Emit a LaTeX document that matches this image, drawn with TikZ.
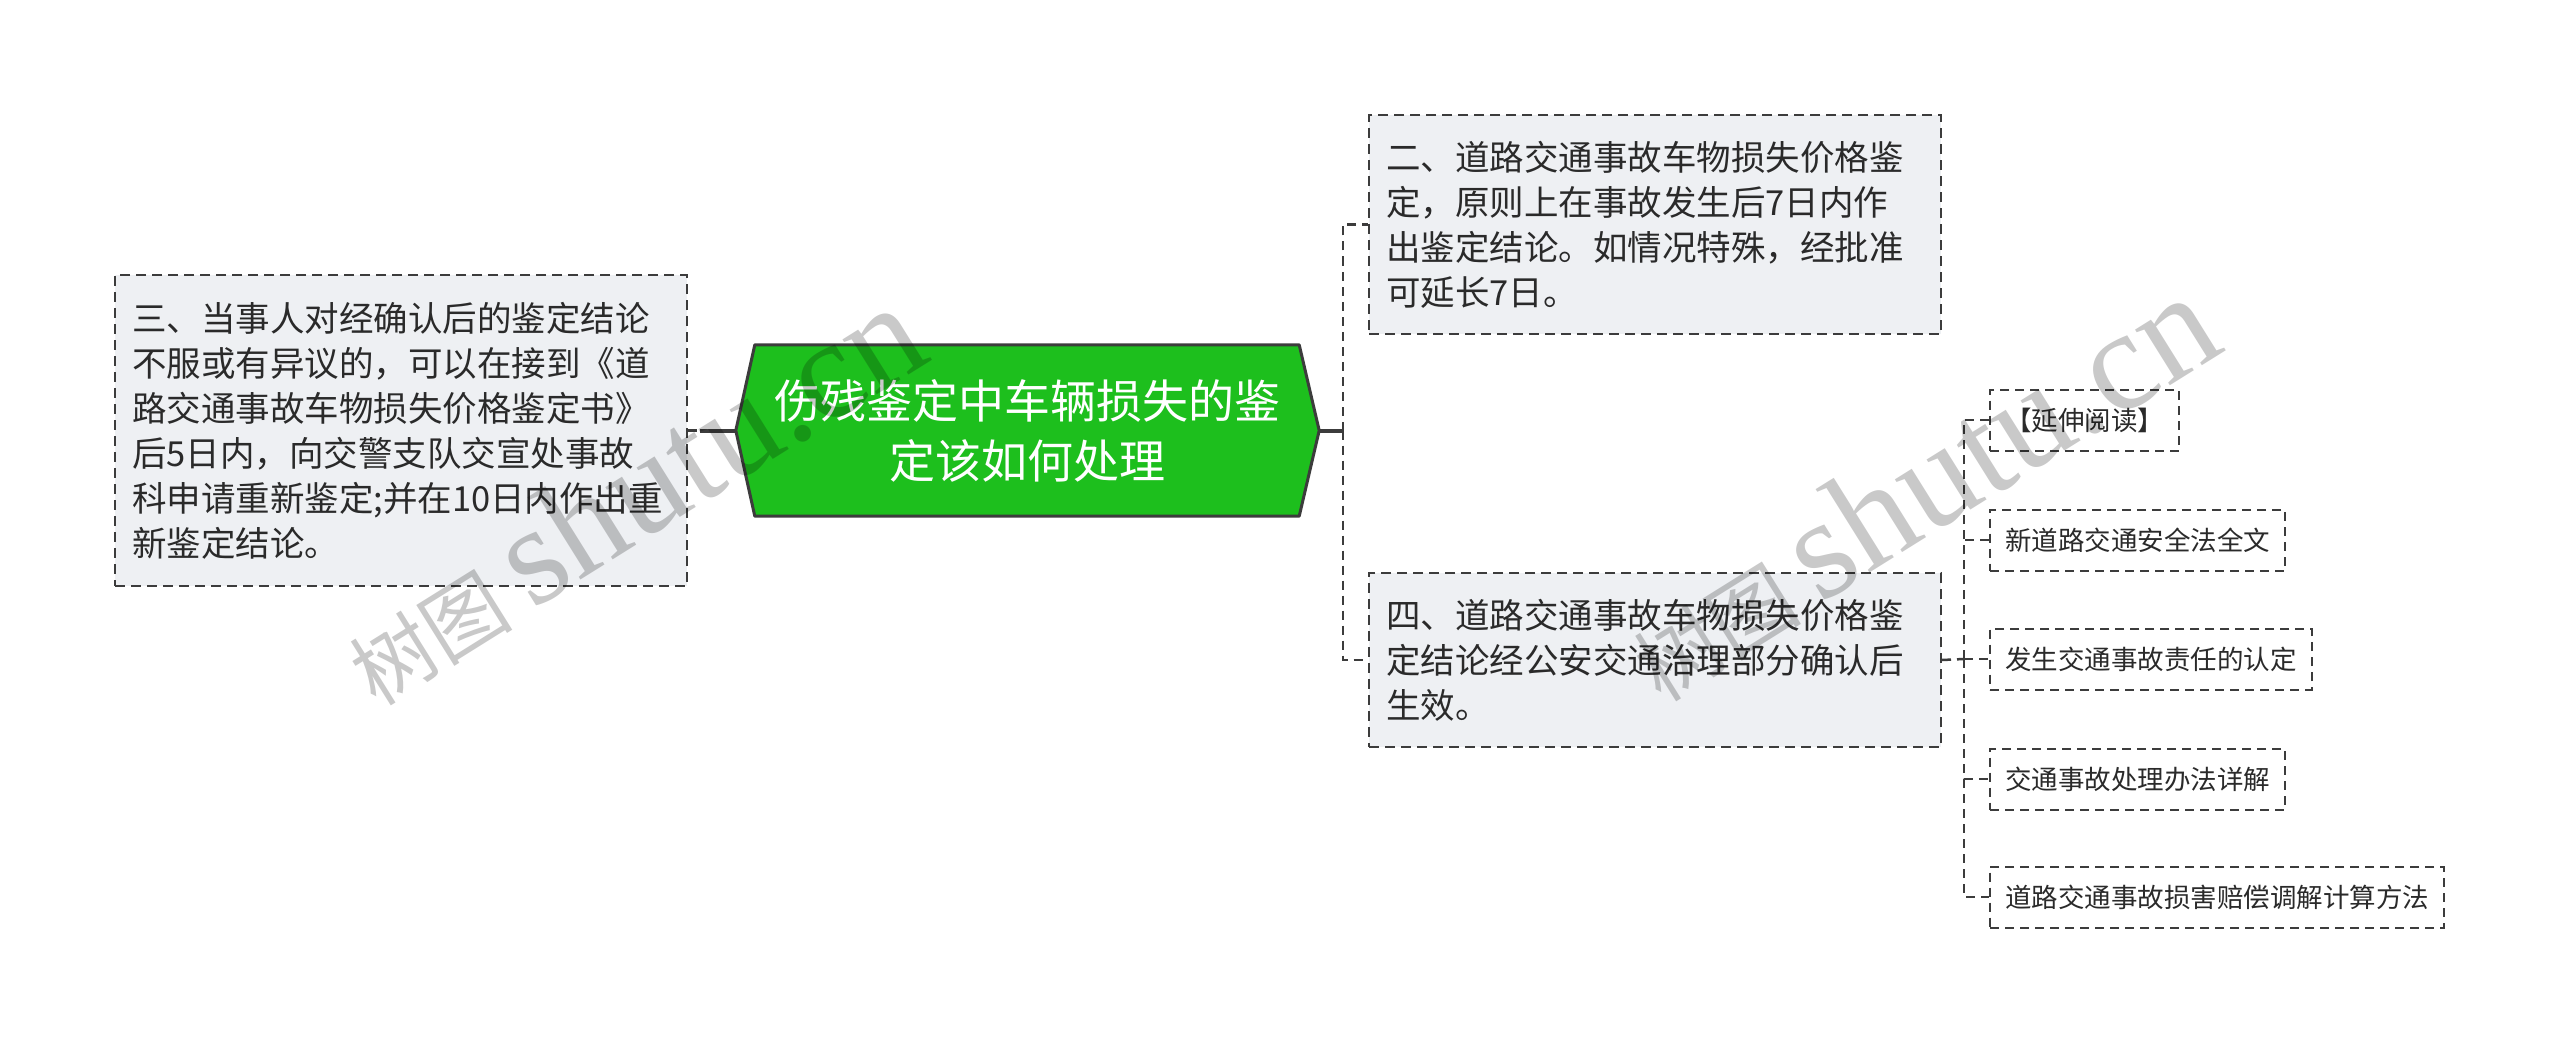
\documentclass[tikz,border=0pt]{standalone}
\usepackage{fontspec}
\setmainfont{Noto Sans CJK SC}
\newfontfamily\wmcjk{Noto Sans CJK SC}
\newfontfamily\wmlatin{Liberation Serif}
\usetikzlibrary{backgrounds}
\definecolor{rootgreen}{HTML}{1DBF1D}
\definecolor{edgegray}{HTML}{3C3C3C}
\definecolor{boxfill}{HTML}{EEF0F3}
\definecolor{txt}{HTML}{2A2A2A}
\begin{document}
\begin{tikzpicture}[x=1pt,y=-1pt,
  rootnode/.style={minimum width=583pt, minimum height=171pt, inner sep=0pt,
    text=white, align=center, font=\fontsize{46}{60}\selectfont},
  bigbox/.style={draw=edgegray, line width=2pt, dash pattern=on 10pt off 6pt,
    fill=boxfill, inner xsep=17pt, inner ysep=0pt, text width=538pt,
    align=left, text=txt, font=\fontsize{34.5}{45}\selectfont, anchor=north west},
  smallbox/.style={draw=edgegray, line width=2pt, dash pattern=on 9pt off 6pt,
    fill=white, inner xsep=15pt, inner ysep=0pt, minimum height=61pt,
    text=txt, font=\fontsize{26.5}{30}\selectfont, anchor=west},
  rootline/.style={draw=edgegray, line width=4pt},
  dashline/.style={draw=edgegray, line width=2.5pt, dash pattern=on 9pt off 6pt},
  wm/.style={text=black, opacity=0.21, inner sep=0pt}
]
\useasboundingbox (0,0) rectangle (2560,1043);

% root
\node[rootnode] (root) at (1027.5,430.5) {伤残鉴定中车辆损失的鉴\\定该如何处理};
\begin{scope}[on background layer]
  \fill[white] (0,0) rectangle (2560,1043);
  \path[fill=rootgreen, draw=edgegray, line width=3pt, line join=round]
    (root.west) -- ([xshift=19pt]root.north west) -- ([xshift=-20pt]root.north east)
    -- (root.east) -- ([xshift=-20pt]root.south east) -- ([xshift=19pt]root.south west) -- cycle;
\end{scope}

% first level
\node[bigbox, minimum height=311pt] (n3) at (114,274)
  {三、当事人对经确认后的鉴定结论\\不服或有异议的，可以在接到《道\\路交通事故车物损失价格鉴定书》\\后5日内，向交警支队交宣处事故\\科申请重新鉴定;并在10日内作出重\\新鉴定结论。};
\node[bigbox, minimum height=219pt] (n2) at (1368,114)
  {二、道路交通事故车物损失价格鉴\\定，原则上在事故发生后7日内作\\出鉴定结论。如情况特殊，经批准\\可延长7日。};
\node[bigbox, minimum height=174pt] (n4) at (1368,572)
  {四、道路交通事故车物损失价格鉴\\定结论经公安交通治理部分确认后\\生效。};

% second level
\node[smallbox] (s1) at (1989,420) {【延伸阅读】};
\node[smallbox] (s2) at (1989,540) {新道路交通安全法全文};
\node[smallbox] (s3) at (1989,659) {发生交通事故责任的认定};
\node[smallbox] (s4) at (1989,779) {交通事故处理办法详解};
\node[smallbox] (s5) at (1989,897) {道路交通事故损害赔偿调解计算方法};

% connectors
\coordinate (jl) at (700,430.5);
\coordinate (jr) at (1343,430.5);
\coordinate (j4) at (1964,659);
\draw[rootline] (root.west) -- (jl);
\draw[dashline] (n3.east) -- (jl);
\draw[rootline] (root.east) -- (jr);
\draw[dashline] (jr) |- (n2.west);
\draw[dashline] (jr) |- (n4.west);
\draw[dashline] (n4.east) -- (j4);
\draw[dashline] (j4) |- (s1.west);
\draw[dashline] (j4) |- (s2.west);
\draw[dashline] (j4) -- (s3.west);
\draw[dashline] (j4) |- (s4.west);
\draw[dashline] (j4) |- (s5.west);

% watermarks
\node[wm, anchor=base west, rotate=32] (wm1) at (376,708)
  {{\wmcjk\fontsize{82}{82}\selectfont 树图}\hspace{20pt}{\wmlatin\fontsize{141}{141}\selectfont shutu.cn}};
\node[wm, anchor=base west, rotate=32] (wm2) at (1661,704)
  {{\wmcjk\fontsize{84}{84}\selectfont 树图}\hspace{20pt}{\wmlatin\fontsize{143}{143}\selectfont shutu.cn}};
\end{tikzpicture}
\end{document}
